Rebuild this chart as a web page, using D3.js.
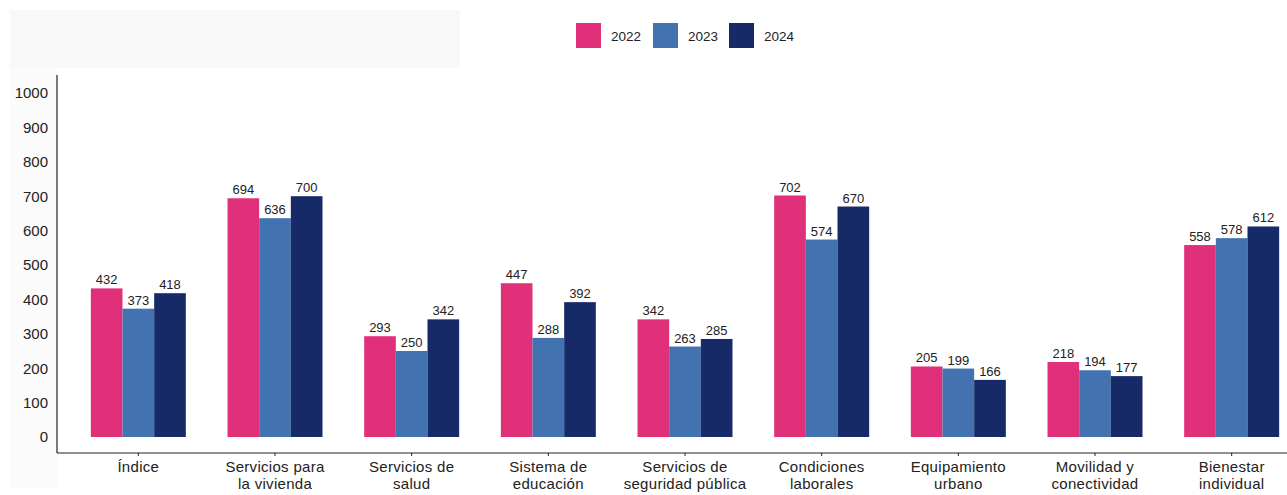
<!DOCTYPE html>
<html><head><meta charset="utf-8">
<script src="https://cdn.jsdelivr.net/npm/d3@7"></script>
<style>body{margin:0;background:#fff;font-family:"Liberation Sans",Arial,sans-serif;}</style>
</head><body><svg id="c" width="1287" height="495"></svg>
<script>
const categories = [["Índice"],["Servicios para","la vivienda"],["Servicios de","salud"],["Sistema de","educación"],["Servicios de","seguridad pública"],["Condiciones","laborales"],["Equipamiento","urbano"],["Movilidad y","conectividad"],["Bienestar","individual"]];
const years = ["2022","2023","2024"];
const v2022 = [432,694,293,447,342,702,205,218,558];
const v2023 = [373,636,250,288,263,574,199,194,578];
const v2024 = [418,700,342,392,285,670,166,177,612];
const yTicks = [0,100,200,300,400,500,600,700,800,900,1000];
const colors = ["#e0307a","#4272b0","#172a68"];
const series = [v2022, v2023, v2024];

const svg = d3.select("#c");
svg.append("rect").attr("x",10).attr("y",10).attr("width",450).attr("height",58).attr("fill","#f8f8f8");
svg.append("rect").attr("x",10).attr("y",68).attr("width",47).attr("height",420).attr("fill","#fbfbfb");

const keys = categories.map((c,i)=>i);
const x = d3.scaleBand().domain(keys).range([70,1300]).paddingInner(0.305).paddingOuter(0.1525);
const x1 = d3.scaleBand().domain(years).range([0,x.bandwidth()]);
const y = d3.scaleLinear().domain([0,1000]).range([437,93]);

// y axis
svg.append("line").attr("x1",57).attr("x2",57).attr("y1",75).attr("y2",453).attr("stroke","#222").attr("stroke-width",1.2);
const ya = svg.append("g").attr("transform","translate(57,0)").call(d3.axisLeft(y).tickValues(yTicks).tickSize(0).tickPadding(9).tickFormat(d3.format("d")));
ya.select(".domain").remove();
ya.selectAll("text").attr("font-size",15).attr("fill","#222").attr("font-family","Liberation Sans, Arial, sans-serif");

// x axis
svg.append("line").attr("x1",57).attr("x2",1287).attr("y1",453).attr("y2",453).attr("stroke","#222").attr("stroke-width",1.2);
const xa = svg.append("g").attr("transform","translate(0,453)").call(d3.axisBottom(x).tickSize(3).tickFormat(""));
xa.select(".domain").remove();
xa.selectAll("line").attr("stroke","#222");
keys.forEach(i=>{
  const cx = x(i)+x.bandwidth()/2;
  const t = svg.append("text").attr("x",cx).attr("y",472).attr("text-anchor","middle")
    .attr("font-size",15).attr("letter-spacing",0.3).attr("fill","#222");
  categories[i].forEach((l,j)=>t.append("tspan").attr("x",cx).attr("dy",j?17:0).text(l));
});

// bars
series.forEach((vals,s)=>{
  const g = svg.append("g");
  g.selectAll("rect").data(vals).join("rect")
    .attr("x",(d,i)=>x(i)+x1(years[s]))
    .attr("y",d=>y(d))
    .attr("width",x1.bandwidth())
    .attr("height",d=>y(0)-y(d))
    .attr("fill",colors[s]);
  g.selectAll("text").data(vals).join("text")
    .attr("x",(d,i)=>x(i)+x1(years[s])+x1.bandwidth()/2)
    .attr("y",d=>y(d)-4)
    .attr("text-anchor","middle").attr("font-size",13).attr("fill","#222")
    .text(d=>d);
});

// legend
const lx = [576,653,729];
years.forEach((yr,i)=>{
  svg.append("rect").attr("x",lx[i]).attr("y",23).attr("width",25).attr("height",25).attr("fill",colors[i]);
  svg.append("text").attr("x",lx[i]+35).attr("y",40.5).attr("font-size",13.5).attr("fill","#222").text(yr);
});
</script></body></html>
